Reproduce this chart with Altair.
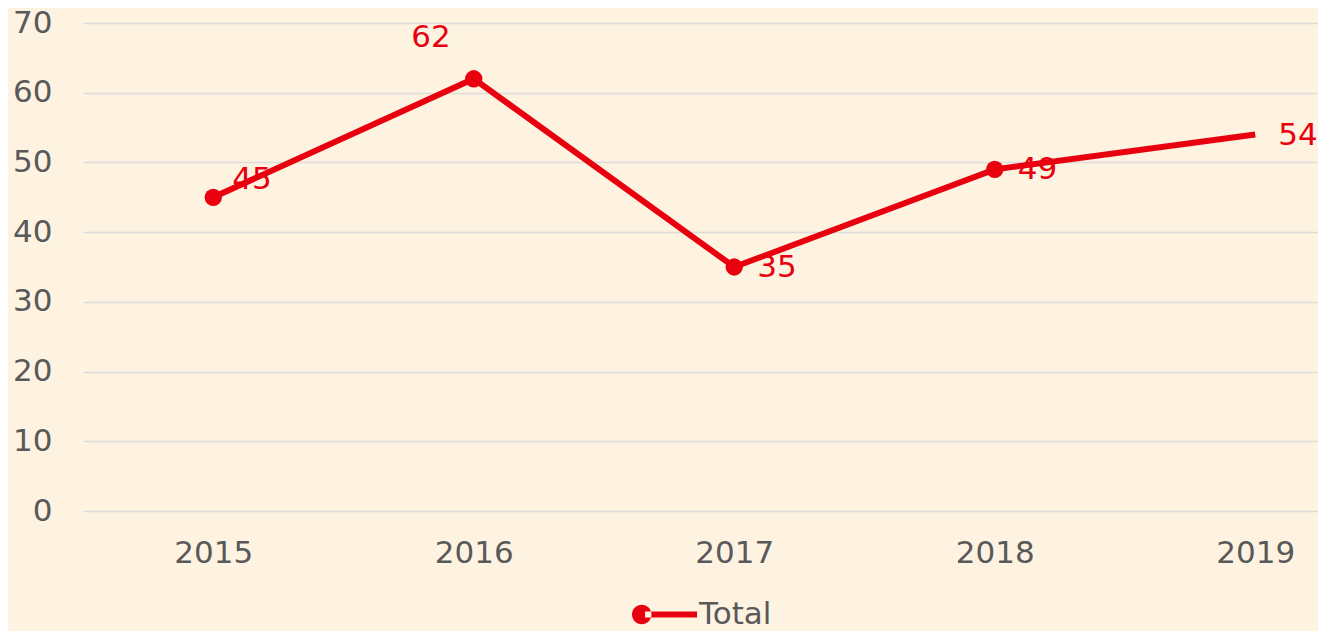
import altair as alt
import pandas as pd

years = [2015, 2016, 2017, 2018, 2019]
values = [45, 62, 35, 49, 54]
series = ["Total", "Total", "Total", "Total", "Total"]
marker = [True, True, True, True, False]
y_ticks = [0, 10, 20, 30, 40, 50, 60, 70]

RED = "#E8000F"
GRAY = "#595959"
FONT = "DejaVu Sans"
FS = 31

df = pd.DataFrame({"year": years, "value": values, "series": series, "marker": marker})

x = alt.X("year:Q",
          scale=alt.Scale(domain=[2014.5, 2019.241], nice=False, zero=False),
          axis=alt.Axis(values=years, format="d", title=None, grid=False, domain=False,
                        ticks=False, labelFontSize=FS, labelColor=GRAY, labelFont=FONT,
                        labelPadding=27, labelFlush=False))
y = alt.Y("value:Q",
          scale=alt.Scale(domain=[0, 70], nice=False),
          axis=alt.Axis(values=y_ticks, title=None, domain=False, ticks=False,
                        gridColor="#DCDCDC", gridWidth=1.5, labelFontSize=FS,
                        labelColor=GRAY, labelFont=FONT, labelPadding=31))

base = alt.Chart(df)

line = base.mark_line(color=RED, strokeWidth=6).encode(x=x, y=y)

legend_path = ("M-1,0 A0.3,0.3 0 1,0 -0.4,0 A0.3,0.3 0 1,0 -1,0 Z "
               "M-0.6,-0.09 L1,-0.09 L1,0.09 L-0.6,0.09 Z")

points = base.mark_point(filled=True, opacity=1, size=300).encode(
    x=x, y=y,
    color=alt.Color("series:N", scale=alt.Scale(range=[RED]),
                    legend=alt.Legend(title=None, orient="none", legendX=549, legendY=559,
                                      symbolType=legend_path, symbolSize=4225,
                                      symbolFillColor=RED, symbolStrokeWidth=0,
                                      symbolOpacity=1,
                                      labelFontSize=FS, labelColor=GRAY, labelFont=FONT,
                                      labelOffset=2, padding=0)),
).transform_filter("datum.marker")

lab_common = dict(color=RED, fontSize=FS, font=FONT, baseline="middle")
labels_right = base.mark_text(align="left", dx=23, dy=1, **lab_common).encode(
    x=x, y=y, text="value:Q").transform_filter("datum.year >= 2017")
label_2015 = base.mark_text(align="left", dx=19, dy=-17, **lab_common).encode(
    x=x, y=y, text="value:Q").transform_filter("datum.year == 2015")
label_2016 = base.mark_text(align="right", dx=-23, dy=-41, **lab_common).encode(
    x=x, y=y, text="value:Q").transform_filter("datum.year == 2016")

chart = alt.layer(line, points, labels_right, label_2015, label_2016).properties(
    width=1235, height=488,
    autosize=alt.AutoSizeParams(type="none"),
    padding={"left": 75, "top": 15, "right": 0, "bottom": 120},
    background="#FEF3E1",
).configure_view(stroke=None)

chart.save("out.html", embed_options={"renderer": "svg", "actions": False})
